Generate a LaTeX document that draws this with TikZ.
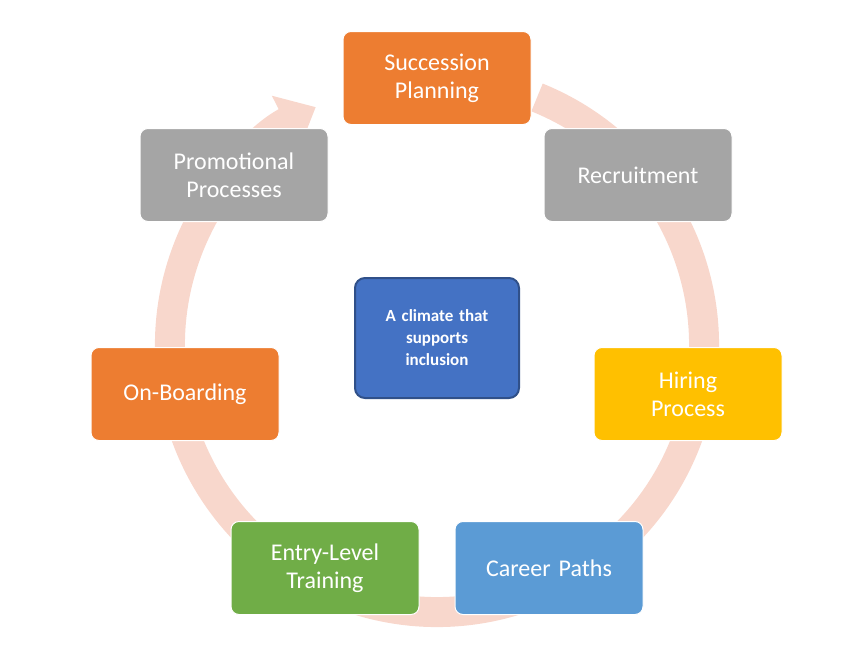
\documentclass[tikz,border=0pt]{standalone}
\usepackage{fontspec}
\setmainfont{Carlito}
\usetikzlibrary{arrows.meta}
\definecolor{orng}{HTML}{ED7D31}
\definecolor{gry}{HTML}{A5A5A5}
\definecolor{gold}{HTML}{FFC000}
\definecolor{sky}{HTML}{5B9BD5}
\definecolor{grn}{HTML}{70AD47}
\definecolor{navy}{HTML}{4472C4}
\definecolor{ring}{HTML}{F8D7CC}
\tikzset{
  stage/.style={rounded corners=8pt, minimum width=188pt, minimum height=93pt,
    text width=170pt, align=center, text=white, font=\fontsize{24}{28}\selectfont,
    draw=white, line width=1pt},
}
\begin{document}
\begin{tikzpicture}[x=1pt,y=-1pt]
    \useasboundingbox (0,0) rectangle (860,645);
    \coordinate (C) at (437,345);
    \draw[ring, line width=30pt, -{Triangle[width=58pt,length=34pt]}]
      (C) ++(-68:267) arc[start angle=-68, end angle=243, radius=267];
    \node[stage, fill=orng] (A0_0) at (437,78) {Succession\\Planning};
    \node[stage, fill=gry] (A0_1) at (638,175) {Recruitment};
    \node[stage, fill=gold] (A1_1) at (688,394) {Hiring\\Process};
    \node[stage, fill=sky] (A2_1) at (549,568) {Career Paths};
    \node[stage, fill=grn] (A2_0) at (325,568) {Entry-Level\\Training};
    \node[stage, fill=orng] (A1_0) at (185,394) {On-Boarding};
    \node[stage, fill=gry] (A0_2) at (234,175) {Promotional\\Processes};
    \node[rounded corners=10pt, fill=navy, draw=navy!70!black, line width=2pt,
      minimum width=164pt, minimum height=120pt, text width=140pt, align=center,
      text=white, font=\bfseries\fontsize{17}{22}\selectfont] (M) at (437,338)
      {A climate that\\supports\\inclusion};
\end{tikzpicture}
\end{document}
